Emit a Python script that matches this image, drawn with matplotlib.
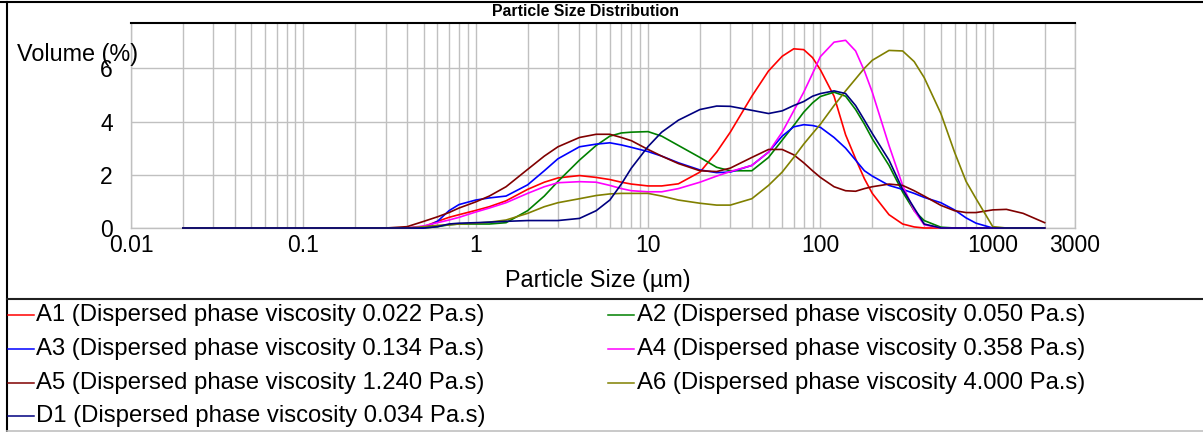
"""Particle size distribution chart (volume % vs particle size)."""
import matplotlib
matplotlib.use("Agg")
import matplotlib.pyplot as plt
from matplotlib.lines import Line2D
from matplotlib.ticker import FixedLocator, LogLocator, NullFormatter

plt.rcParams["font.family"] = ["Liberation Sans", "DejaVu Sans"]

# particle size bins, um
sizes = [0.02, 0.3, 0.4, 0.5, 0.6, 0.7, 0.8, 1.0, 1.2, 1.5, 2, 2.5, 3, 4, 5, 6,
         7, 8, 10, 12, 15, 20, 25, 30, 40, 50, 60, 70, 80, 90, 100, 120, 140,
         160, 180, 200, 250, 300, 350, 400, 500, 600, 700, 800, 1000, 1200,
         1500, 2000]

# volume %, one value per size bin
a1 = [0, 0, 0, 0.05, 0.25, 0.4, 0.5, 0.66, 0.8, 1.02, 1.45, 1.72, 1.88, 1.97,
      1.9, 1.82, 1.72, 1.65, 1.58, 1.58, 1.66, 2.1, 2.85, 3.6, 4.95, 5.9, 6.45,
      6.73, 6.7, 6.4, 5.94, 4.95, 3.5, 2.6, 1.85, 1.3, 0.5, 0.15, 0.04, 0, 0,
      0, 0, 0, 0, 0, 0, 0]
a2 = [0, 0, 0, 0, 0.05, 0.12, 0.15, 0.15, 0.15, 0.2, 0.65, 1.2, 1.75, 2.55,
      3.1, 3.45, 3.57, 3.6, 3.62, 3.45, 3.1, 2.65, 2.28, 2.15, 2.15, 2.65, 3.3,
      3.85, 4.35, 4.7, 4.94, 5.1, 4.95, 4.45, 3.9, 3.35, 2.35, 1.35, 0.65,
      0.28, 0.03, 0, 0, 0, 0, 0, 0, 0]
a3 = [0, 0, 0, 0, 0.25, 0.65, 0.88, 1.05, 1.13, 1.2, 1.62, 2.15, 2.6, 3.05,
      3.15, 3.2, 3.12, 3.03, 2.87, 2.7, 2.45, 2.18, 2.08, 2.1, 2.35, 2.85, 3.45,
      3.8, 3.88, 3.85, 3.78, 3.4, 3.0, 2.55, 2.15, 1.95, 1.6, 1.45, 1.3, 1.15,
      0.95, 0.68, 0.38, 0.18, 0, 0, 0, 0]
a4 = [0, 0, 0, 0.08, 0.2, 0.3, 0.4, 0.6, 0.75, 0.95, 1.3, 1.55, 1.7, 1.74,
      1.72, 1.6, 1.48, 1.4, 1.36, 1.36, 1.48, 1.72, 1.95, 2.12, 2.35, 2.85,
      3.6, 4.4, 5.1, 5.8, 6.44, 6.98, 7.05, 6.65, 5.9, 5.1, 3.1, 1.6, 0.65,
      0.12, 0, 0, 0, 0, 0, 0, 0, 0]
a5 = [0, 0, 0.05, 0.25, 0.42, 0.58, 0.75, 0.98, 1.2, 1.55, 2.2, 2.7, 3.05,
      3.4, 3.52, 3.52, 3.4, 3.28, 2.95, 2.7, 2.42, 2.15, 2.12, 2.25, 2.65, 2.95,
      2.95, 2.75, 2.45, 2.15, 1.9, 1.55, 1.4, 1.38, 1.48, 1.55, 1.65, 1.6, 1.4,
      1.2, 0.85, 0.65, 0.58, 0.58, 0.68, 0.7, 0.55, 0.2]
a6 = [0, 0, 0, 0.05, 0.1, 0.12, 0.15, 0.18, 0.22, 0.3, 0.55, 0.8, 0.95, 1.1,
      1.22, 1.28, 1.3, 1.3, 1.3, 1.2, 1.05, 0.93, 0.86, 0.86, 1.1, 1.6, 2.1,
      2.65, 3.15, 3.55, 3.9, 4.6, 5.15, 5.6, 6.0, 6.3, 6.67, 6.65, 6.25, 5.65,
      4.3, 2.85, 1.75, 1.1, 0.05, 0, 0, 0]
d1 = [0, 0, 0, 0, 0.05, 0.15, 0.18, 0.2, 0.22, 0.25, 0.28, 0.28, 0.28, 0.36,
      0.65, 1.05, 1.65, 2.25, 3.06, 3.6, 4.05, 4.45, 4.58, 4.57, 4.42, 4.3,
      4.4, 4.6, 4.75, 4.95, 5.05, 5.15, 5.05, 4.6, 4.05, 3.55, 2.55, 1.45,
      0.75, 0.15, 0, 0, 0, 0, 0, 0, 0, 0]

series = [a1, a2, a3, a4, a5, a6, d1]
labels = [
    "A1 (Dispersed phase viscosity 0.022 Pa.s)",
    "A2 (Dispersed phase viscosity 0.050 Pa.s)",
    "A3 (Dispersed phase viscosity 0.134 Pa.s)",
    "A4 (Dispersed phase viscosity 0.358 Pa.s)",
    "A5 (Dispersed phase viscosity 1.240 Pa.s)",
    "A6 (Dispersed phase viscosity 4.000 Pa.s)",
    "D1 (Dispersed phase viscosity 0.034 Pa.s)",
]
colors = ["#ff0000", "#008000", "#0000ff", "#ff00ff", "#800000", "#808000",
          "#000080"]

x_ticks = [0.01, 0.1, 1, 10, 100, 1000, 3000]
x_tick_labels = ["0.01", "0.1", "1", "10", "100", "1000", "3000"]
y_ticks = [0, 2, 4, 6]

W, H = 1203, 432
GRID = "#c0c0c0"


def fx(px):
    return px / W


def fy(py):
    return 1 - py / H


fig = plt.figure(figsize=(W / 100, H / 100), dpi=100)
ax = fig.add_axes([fx(131), fy(228), (1075 - 131) / W, (228 - 23) / H])

for vals, col, lab in zip(series, colors, labels):
    ax.plot(sizes, vals, color=col, lw=1.2, label=lab, clip_on=False,
            zorder=3)

ax.set_xscale("log")
ax.set_xlim(0.01, 3000)
ax.set_ylim(0, 7.7)
ax.xaxis.set_major_locator(FixedLocator(x_ticks))
ax.set_xticklabels(x_tick_labels)
ax.xaxis.set_minor_locator(LogLocator(base=10, subs=range(2, 10), numticks=20))
ax.xaxis.set_minor_formatter(NullFormatter())
ax.set_yticks(y_ticks)
ax.tick_params(axis="both", which="both", length=0, labelsize=16.5)
ax.tick_params(axis="x", pad=4)
ax.tick_params(axis="y", pad=13)
ax.grid(True, which="both", color=GRID, lw=1.0)
ax.set_axisbelow(True)
for side in ["left", "right", "bottom"]:
    ax.spines[side].set_color(GRID)
    ax.spines[side].set_linewidth(1.0)
ax.spines["top"].set_color("black")
ax.spines["top"].set_linewidth(1.5)

fig.text(fx(586), fy(12), "Particle Size Distribution", ha="center",
         va="center", fontsize=11.4, fontweight="bold")
fig.text(fx(17), fy(54), "Volume (%)", ha="left", va="center", fontsize=16.8)
fig.text(fx(598), fy(281), "Particle Size (µm)", ha="center", va="center",
         fontsize=16.8)

# frame around the whole report and the legend box
fig.add_artist(Line2D([0, 1], [fy(1.5), fy(1.5)], color="black", lw=1.5))
fig.add_artist(Line2D([fx(7), fx(7)], [fy(1.5), fy(431)], color="black",
                      lw=1.5))
fig.add_artist(Line2D([fx(7), 1], [fy(299), fy(299)], color="#202020",
                      lw=1.5))
fig.add_artist(Line2D([fx(7), 1], [fy(430.5), fy(430.5)], color=GRID, lw=1.2))

# legend, two columns
row_y = [315, 349, 383, 416]
col_x = [(8, 34, 36), (608, 634, 637)]
for i, (lab, col) in enumerate(zip(labels, colors)):
    y = row_y[i // 2]
    x0, x1, xt = col_x[i % 2]
    fig.add_artist(Line2D([fx(x0), fx(x1)], [fy(y), fy(y)], color=col,
                          lw=1.1))
    fig.text(fx(xt), fy(y), lab, ha="left", va="center", fontsize=17.2)

fig.savefig("out.png", dpi=100)
plt.close(fig)
